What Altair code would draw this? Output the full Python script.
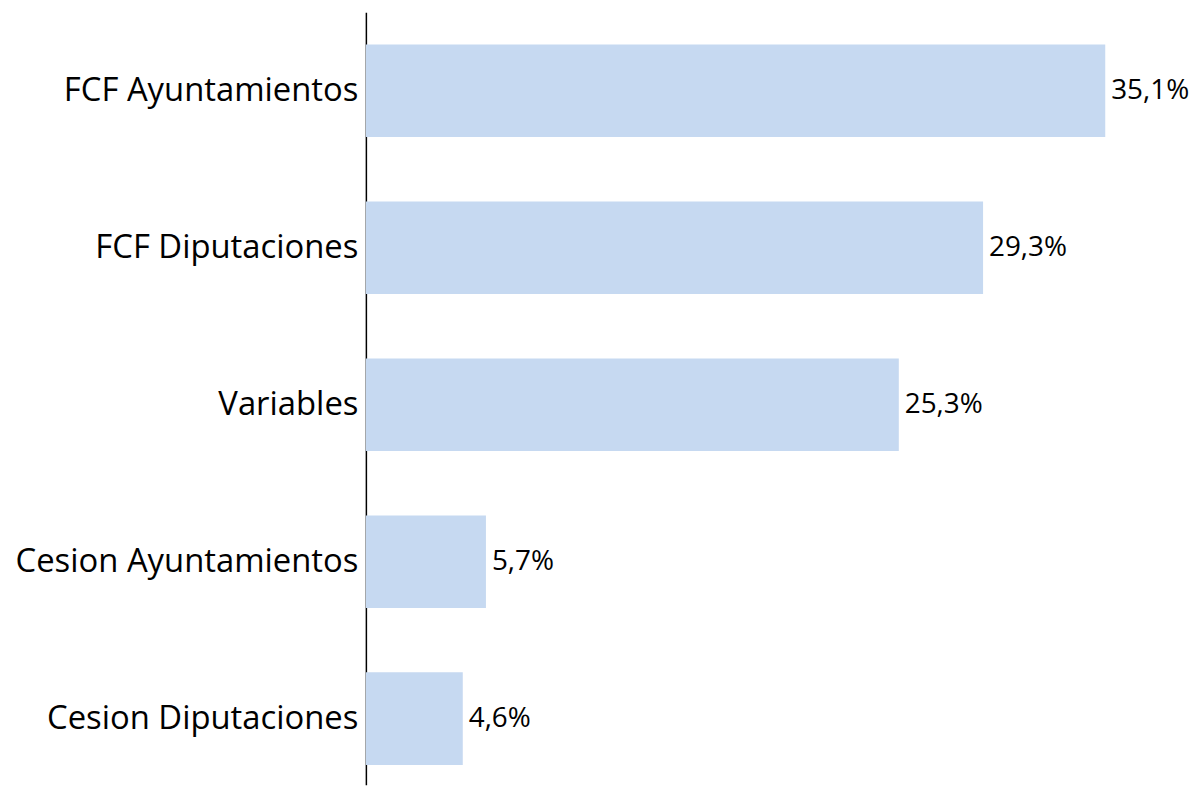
import altair as alt
import pandas as pd

categories = ["FCF Ayuntamientos", "FCF Diputaciones", "Variables",
              "Cesion Ayuntamientos", "Cesion Diputaciones"]
values = [35.1, 29.3, 25.3, 5.7, 4.6]
labels = ["35,1%", "29,3%", "25,3%", "5,7%", "4,6%"]

df = pd.DataFrame({"cat": categories, "val": values, "label": labels})

FONT = "Open Sans"

y_enc = alt.Y(
    "cat:N", sort=categories, title=None,
    scale=alt.Scale(paddingInner=0.41, paddingOuter=0.1655, align=0.62),
    axis=alt.Axis(domainColor="black", domainWidth=1.5, ticks=False,
                  labelFont=FONT, labelFontSize=33, labelColor="black",
                  labelPadding=8, labelLimit=600, grid=False),
)
x_enc = alt.X("val:Q", scale=alt.Scale(domain=[0, 37], nice=False, zero=True), axis=None)

base = alt.Chart(df).encode(y=y_enc, x=x_enc)

bars = base.mark_bar(color="#C6D9F1")
text = base.mark_text(align="left", baseline="middle", dx=6, font=FONT,
                      fontSize=28, color="black").encode(text="label:N")

chart = (bars + text).properties(
    width=784, height=777,
    padding={"left": 360, "top": 2, "right": 45, "bottom": 0},
    autosize="none",
).configure_view(stroke=None)

chart.save("out.html", embed_options={"renderer": "svg", "actions": False})
